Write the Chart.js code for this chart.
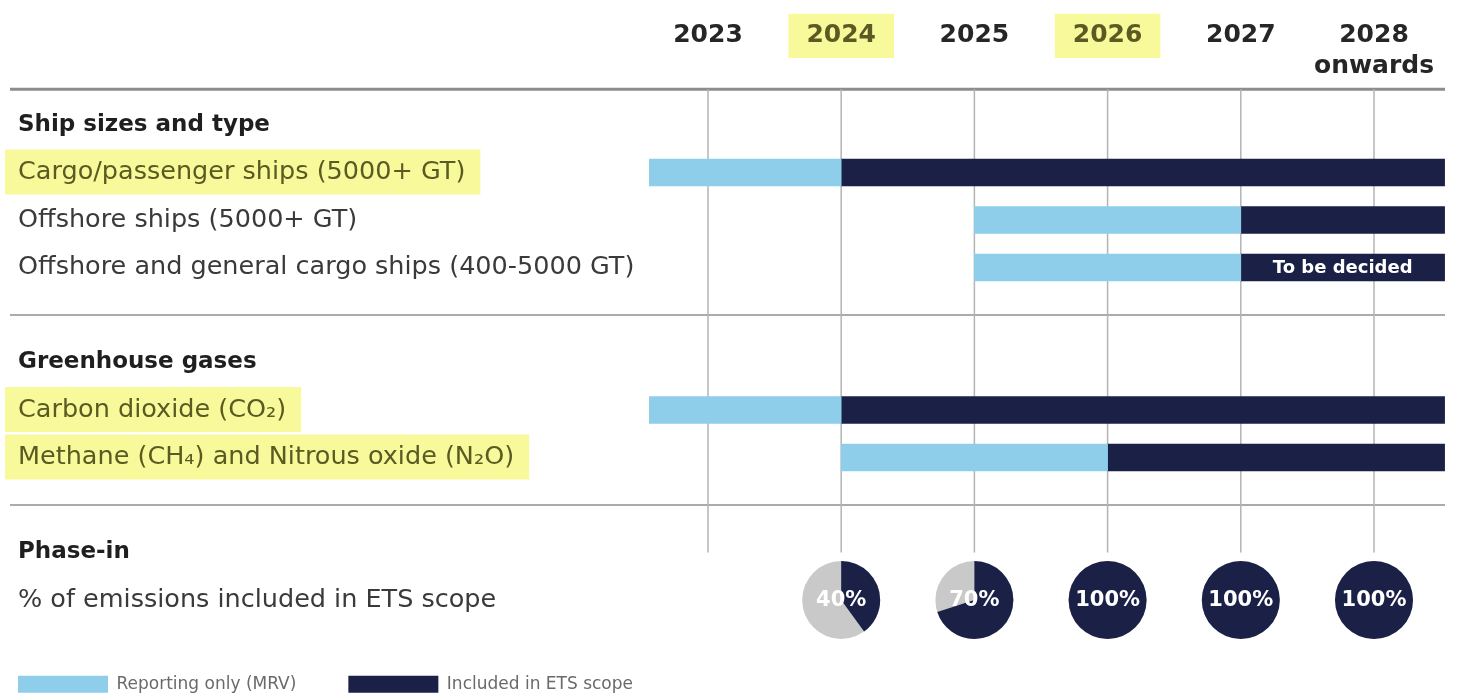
<!DOCTYPE html>
<html>
<head>
<meta charset="utf-8">
<title>EU ETS maritime phase-in</title>
<script src="https://cdn.jsdelivr.net/npm/chart.js@4.4.1/dist/chart.umd.min.js"></script>
<style>
  html, body { margin: 0; padding: 0; background: #ffffff; }
  #wrap { position: relative; width: 1473px; height: 699px; }
</style>
</head>
<body>
<div id="wrap"><canvas id="timeline"></canvas></div>
<script>
// ---- rows of the timeline (top to bottom) ----
const rowLabels = [
  'Ship sizes and type',
  'Cargo/passenger ships (5000+ GT)',
  'Offshore ships (5000+ GT)',
  'Offshore and general cargo ships (400-5000 GT)',
  '',
  'Greenhouse gases',
  'Carbon dioxide (CO₂)',
  'Methane (CH₄) and Nitrous oxide (N₂O)',
  ' ',
  'Phase-in',
  '% of emissions included in ETS scope'
];
const headingRows = ['Ship sizes and type', 'Greenhouse gases', 'Phase-in'];
const highlightedRows = ['Cargo/passenger ships (5000+ GT)', 'Carbon dioxide (CO₂)', 'Methane (CH₄) and Nitrous oxide (N₂O)'];
const sectionBreaks = ['', ' '];

// ---- bars: reporting-only period, then inclusion in the ETS ----
const barRows = [
  'Cargo/passenger ships (5000+ GT)',
  'Offshore ships (5000+ GT)',
  'Offshore and general cargo ships (400-5000 GT)',
  'Carbon dioxide (CO₂)',
  'Methane (CH₄) and Nitrous oxide (N₂O)'
];
const mrvFrom = [2022.56, 2025, 2025, 2022.56, 2024];
const etsFrom = [2024, 2027, 2027, 2024, 2026];
const timelineEnd = 2028.53;
const etsNotes = ['', '', 'To be decided', '', ''];

// ---- year axis ----
const yearTicks = [2023, 2024, 2025, 2026, 2027, 2028];
const yearLabels = ['2023', '2024', '2025', '2026', '2027', ['2028', 'onwards']];
const highlightedYears = [2024, 2026];

// ---- share of emissions in scope ----
const phaseRow = '% of emissions included in ETS scope';
const phaseYears = [2024, 2025, 2026, 2027, 2028];
const phaseShare = [40, 70, 100, 100, 100];

const FONT = '"DejaVu Sans", "Noto Sans", sans-serif';
const BLUE = '#8fceea';
const NAVY = '#1b2046';
const GREY = '#c9c9c9';
const MARKER = '#f7f99a';
const OLIVE = '#5b5a22';

const timelinePlugin = {
  id: 'timelineDecor',
  beforeDatasetsDraw(chart) {
    const { ctx, chartArea, scales: { x, y } } = chart;
    const ruleLeft = y.right + y.options.ticks.padding - 8;
    const headerY = chartArea.top - 12;
    const seg = (x1, y1, x2, y2) => { ctx.beginPath(); ctx.moveTo(x1, y1); ctx.lineTo(x2, y2); ctx.stroke(); };
    ctx.save();
    ctx.strokeStyle = '#8c8c8c';
    ctx.lineWidth = 3;
    seg(ruleLeft, headerY, chartArea.right, headerY);
    ctx.strokeStyle = '#ababab';
    ctx.lineWidth = 2;
    sectionBreaks.forEach(lbl => {
      const py = y.getPixelForValue(rowLabels.indexOf(lbl));
      seg(ruleLeft, py, chartArea.right, py);
    });
    const gridBottom = y.getPixelForValue(rowLabels.indexOf('Phase-in'));
    ctx.strokeStyle = '#b4b4b4';
    ctx.lineWidth = 1.5;
    yearTicks.forEach(v => {
      const px = x.getPixelForValue(v);
      seg(px, headerY, px, gridBottom);
    });
    ctx.restore();
  },
  afterDatasetsDraw(chart) {
    const { ctx, scales: { x, y } } = chart;
    ctx.save();
    // notes written inside the ETS bars
    const meta = chart.getDatasetMeta(1);
    meta.data.forEach((bar, i) => {
      if (!etsNotes[i]) return;
      const p = bar.getProps(['x', 'y', 'base'], true);
      ctx.fillStyle = '#ffffff';
      ctx.font = 'bold 18px ' + FONT;
      ctx.textAlign = 'center';
      ctx.textBaseline = 'middle';
      ctx.fillText(etsNotes[i], (p.x + p.base) / 2, p.y + 1);
    });
    // phase-in pies
    const cy = y.getPixelForValue(rowLabels.indexOf(phaseRow));
    const r = 39;
    phaseYears.forEach((yr, i) => {
      const cx = x.getPixelForValue(yr);
      ctx.beginPath();
      ctx.arc(cx, cy, r, 0, Math.PI * 2);
      ctx.fillStyle = GREY;
      ctx.fill();
      const a0 = -Math.PI / 2;
      const a1 = a0 + Math.PI * 2 * phaseShare[i] / 100;
      ctx.beginPath();
      ctx.moveTo(cx, cy);
      ctx.arc(cx, cy, r, a0, a1);
      ctx.closePath();
      ctx.fillStyle = NAVY;
      ctx.fill();
      ctx.fillStyle = '#ffffff';
      ctx.font = 'bold 21px ' + FONT;
      ctx.textAlign = 'center';
      ctx.textBaseline = 'middle';
      ctx.fillText(phaseShare[i] + '%', cx, cy + 1);
    });
    ctx.restore();
  }
};

new Chart(document.getElementById('timeline'), {
  type: 'bar',
  data: {
    labels: rowLabels,
    datasets: [
      {
        label: 'Reporting only (MRV)',
        data: barRows.map((row, i) => ({ y: row, x: [mrvFrom[i], etsFrom[i]] })),
        backgroundColor: BLUE
      },
      {
        label: 'Included in ETS scope',
        data: barRows.map((row, i) => ({ y: row, x: [etsFrom[i], timelineEnd] })),
        backgroundColor: NAVY
      }
    ]
  },
  options: {
    indexAxis: 'y',
    responsive: true,
    maintainAspectRatio: false,
    animation: false,
    layout: { padding: { left: -34, right: 28, top: 0, bottom: -3.75 } },
    datasets: {
      bar: { grouped: false, barThickness: 27, borderWidth: 0, borderSkipped: false }
    },
    scales: {
      x: {
        type: 'linear',
        position: 'top',
        min: 2017.685,
        max: 2028.533,
        afterBuildTicks: s => { s.ticks = yearTicks.map(v => ({ value: v })); },
        afterFit: s => { s.height = 101.25; },
        grid: { display: false, drawTicks: false },
        border: { display: false },
        ticks: {
          padding: 19,
          autoSkip: false,
          maxRotation: 0,
          crossAlign: 'far',
          callback: v => yearLabels[yearTicks.indexOf(v)],
          font: { family: FONT, size: 25, weight: 'bold', lineHeight: 1.25 },
          color: c => highlightedYears.includes(c.tick && c.tick.value) ? OLIVE : '#262626',
          showLabelBackdrop: c => highlightedYears.includes(c.tick && c.tick.value),
          backdropColor: MARKER,
          backdropPadding: { top: 6, bottom: 7, left: 18, right: 18 }
        }
      },
      y: {
        type: 'category',
        position: 'left',
        afterFit: s => { s.width = 0; },
        grid: { display: false, drawTicks: false },
        border: { display: false },
        ticks: {
          mirror: true,
          crossAlign: 'near',
          padding: 18,
          autoSkip: false,
          font: c => headingRows.includes(rowLabels[c.index])
            ? { family: FONT, size: 23, weight: 'bold', lineHeight: 1.2 }
            : { family: FONT, size: 25.5, weight: 'normal', lineHeight: 1.1 },
          color: c => {
            const lbl = rowLabels[c.index];
            if (highlightedRows.includes(lbl)) return OLIVE;
            return headingRows.includes(lbl) ? '#1f1f1f' : '#3a3a3a';
          },
          showLabelBackdrop: c => highlightedRows.includes(rowLabels[c.index]),
          backdropColor: MARKER,
          backdropPadding: { top: 9, bottom: 8, left: 13, right: 15 }
        }
      }
    },
    plugins: {
      legend: {
        position: 'bottom',
        align: 'start',
        labels: {
          boxWidth: 90,
          boxHeight: 17,
          padding: 52,
          color: '#6a6a6a',
          font: { family: FONT, size: 17 }
        }
      },
      tooltip: { enabled: false }
    }
  },
  plugins: [timelinePlugin]
});
</script>
</body>
</html>
